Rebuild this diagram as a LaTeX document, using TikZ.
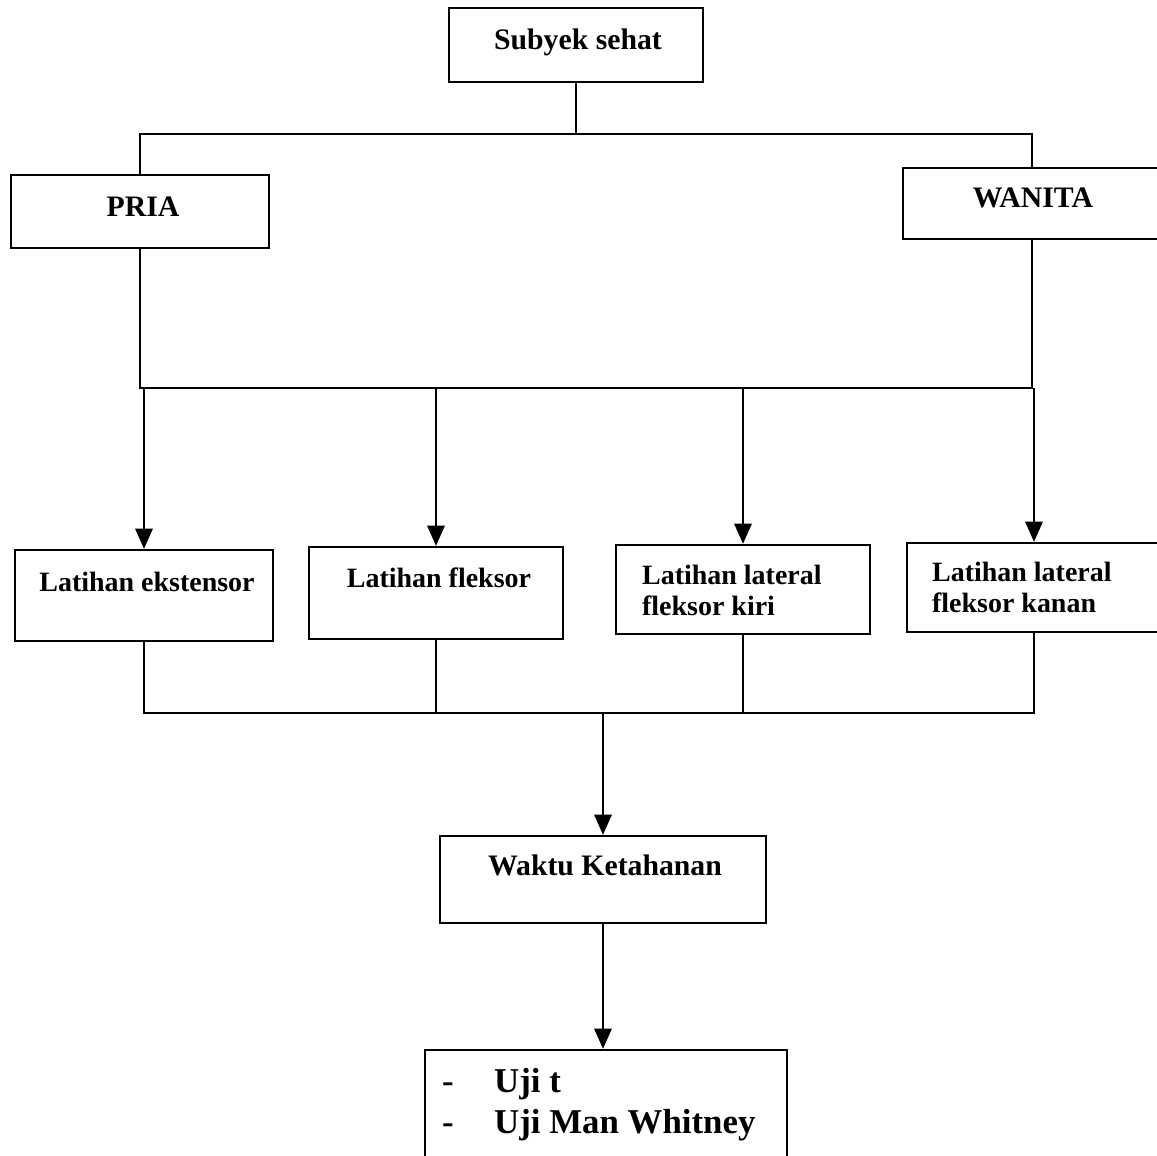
\documentclass[tikz,border=0pt]{standalone}
\usepackage{fontspec}
\setmainfont{Liberation Serif}
\usetikzlibrary{arrows.meta, fit}

\begin{document}
\begin{tikzpicture}[x=0.01383cm, y=-0.01383cm, line width=0.9pt,
	kotak/.style	= {draw, inner sep=0pt},
	teks/.style	= {inner sep=0pt, font=\bfseries\fontsize{11.7}{12.5}\selectfont},
	tekskecil/.style	= {inner sep=0pt, align=left, font=\bfseries\fontsize{11}{12.2}\selectfont},
	teksbesar/.style	= {inner sep=0pt, align=left, font=\bfseries\fontsize{13.7}{16}\selectfont},
	panah/.style	= {-{Triangle[length=0.28cm, width=0.24cm]}}]
\useasboundingbox (0,0) rectangle (1157,1156);
\clip (0,0) rectangle (1157,1156);

% kotak
\node[kotak, fit={(449,8) (703,82)}]		(sub)		{};
\node[kotak, fit={(11,175) (269,248)}]		(pria)	{};
\node[kotak, fit={(903,168) (1161,239)}]	(wanita)	{};
\node[kotak, fit={(15,550) (273,641)}]		(ekst)	{};
\node[kotak, fit={(309,547) (563,639)}]		(flek)	{};
\node[kotak, fit={(616,545) (870,634)}]		(kiri)	{};
\node[kotak, fit={(907,543) (1161,632)}]	(kanan)	{};
\node[kotak, fit={(440,836) (766,923)}]		(waktu)	{};
\node[kotak, fit={(425,1050) (787,1175)}]	(uji)		{};

% teks
\node[teks]				(subT)	at (578,42)		{Subyek sehat};
\node[teks]				(priaT)	at (143,207)		{PRIA};
\node[teks]				(wanitaT)	at (1033,198)		{WANITA};
\node[tekskecil]			(ekstT)	at (147,582)		{Latihan ekstensor};
\node[tekskecil]			(flekT)	at (439,578)		{Latihan fleksor};
\node[tekskecil, anchor=west]	(kiriT)	at (641,590)		{Latihan lateral\\fleksor kiri};
\node[tekskecil, anchor=west]	(kananT)	at (931,587)		{Latihan lateral\\fleksor kanan};
\node[teks]				(waktuT)	at (605,865)		{Waktu Ketahanan};
\node[teksbesar, anchor=west]	(ujiT)	at (441,1105)
	{\makebox[0.72cm][l]{-}Uji t\\\makebox[0.72cm][l]{-}Uji Man Whitney};

% garis
\coordinate (c1) at (576,134);
\coordinate (c2) at (576,388);
\coordinate (c3) at (603,713);

\draw (sub.south) -- (c1);
\draw (pria.north) |- (c1) -| (wanita.north);
\draw (pria.south) |- (c2) -| (wanita.south);
\draw[panah] (ekst.north |- c2) -- (ekst.north);
\draw[panah] (flek.north |- c2) -- (flek.north);
\draw[panah] (kiri.north |- c2) -- (kiri.north);
\draw[panah] (kanan.north |- c2) -- (kanan.north);

\draw (ekst.south) |- (c3) -| (kanan.south);
\draw (flek.south) -- (flek.south |- c3);
\draw (kiri.south) -- (kiri.south |- c3);
\draw[panah] (c3) -- (waktu.north);
\draw[panah] (waktu.south) -- (waktu.south |- uji.north);
\end{tikzpicture}
\end{document}
